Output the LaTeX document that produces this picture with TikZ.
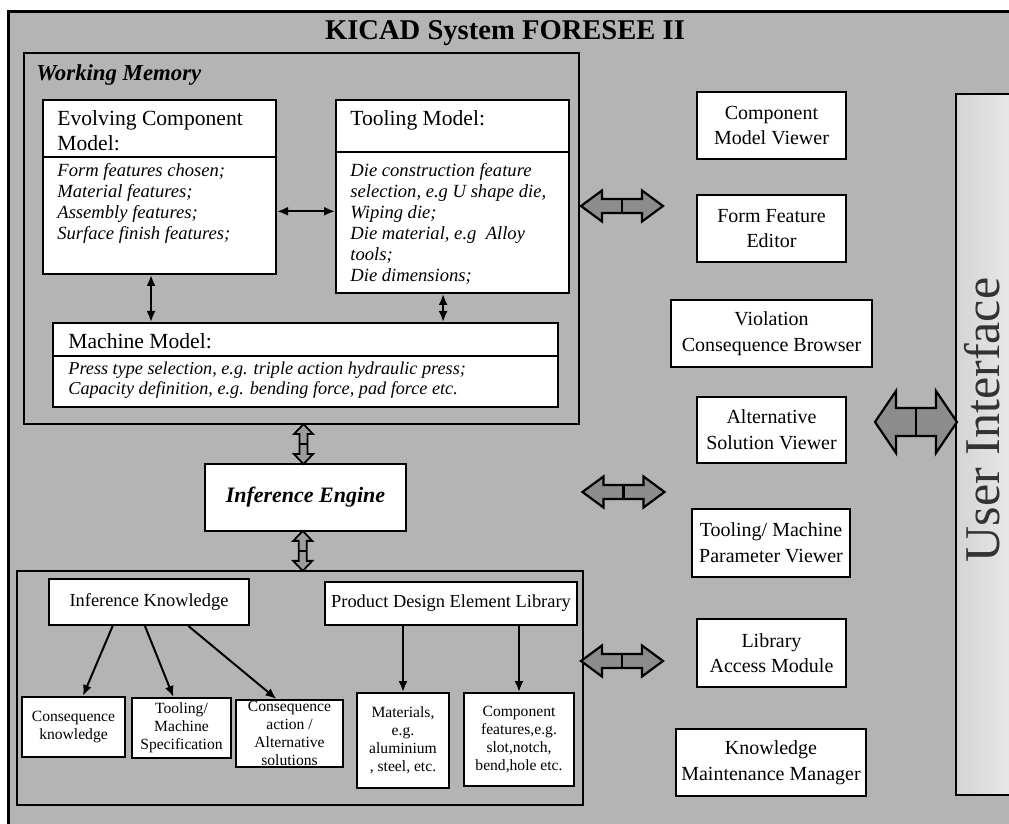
\documentclass[tikz,border=0pt]{standalone}
\usepackage{fontspec}
\setmainfont{Liberation Serif}
\usetikzlibrary{arrows.meta,positioning,calc,fit}

\definecolor{paneltone}{HTML}{B4B4B4}
\definecolor{blockarrow}{HTML}{8C8C8C}
\definecolor{uitone}{HTML}{D4D4D4}
\newcommand{\fsz}[2]{\fontsize{#1}{#2}\selectfont}

\tikzset{
  fatarrow/.pic={
    \draw[fill=blockarrow, line width=1.1pt, line join=miter]
      (-41,0) -- (-20,15.5) -- (-20,7) -- (20,7) -- (20,15.5) -- (41,0)
      -- (20,-15.5) -- (20,-7) -- (-20,-7) -- (-20,-15.5) -- cycle;
    \draw[line width=1.1pt] (0,-7) -- (0,7);
  },
  thinarrow/.pic={
    \draw[fill=blockarrow!85, line width=0.9pt]
      (0,-20) -- (9.5,-10) -- (4,-10) -- (4,10) -- (9.5,10) -- (0,20)
      -- (-9.5,10) -- (-4,10) -- (-4,-10) -- (-9.5,-10) -- cycle;
    \draw[line width=0.9pt] (-4,0) -- (4,0);
  }
}

\begin{document}
\begin{tikzpicture}[x=0.5pt, y=-0.5pt,
  box/.style={draw, line width=1pt, fill=white, inner sep=0pt},
  frame/.style={draw, line width=1.2pt, inner sep=0pt},
  head/.style={inner sep=0pt, anchor=north west, align=left, font=\fsz{10.8}{12.5}},
  body/.style={inner sep=0pt, anchor=north west, align=left, font=\fsz{9.3}{10.5}\itshape},
  tool/.style={box, align=center, font=\fsz{10}{12.8}, minimum width=74.5pt, minimum height=33.5pt},
  leaf/.style={box, align=center, font=\fsz{7.8}{9}},
  biarr/.style={{Latex[length=5.5pt,width=4.5pt]}-{Latex[length=5.5pt,width=4.5pt]}, line width=1pt},
  arr/.style={-{Latex[length=5.5pt,width=4.5pt]}, line width=1pt}]
\clip (0,0) rectangle (1009,824);
\fill[white] (0,0) rectangle (1009,824);
\fill[paneltone] (8,12) rectangle (1020,830);
\draw[line width=1.5pt] (1020,12) -- (8,12) -- (8,830);
\node[font=\fsz{14.3}{16}\bfseries] (title) at (505,33) {KICAD System FORESEE II};

% working memory
\node[frame, fit={(24,53) (579,424)}] (wm) {};
\node[anchor=west, inner sep=0pt, font=\fsz{11.4}{13}\bfseries\itshape] (wmlabel) at (36,75) {Working Memory};

\node[box, fit={(43,100) (276,274)}] (ecm) {};
\draw[line width=1pt] (43,157) -- (276,157);
\node[head] (ecmhead) at (57,110) {Evolving Component\\Model:};
\node[body] (ecmbody) at (57,163) {Form features chosen;\\Material features;\\Assembly features;\\Surface finish features;};

\node[box, fit={(336,100) (569,293)}] (tool) {};
\draw[line width=1pt] (336,152) -- (569,152);
\node[head] (toolhead) at (350,110) {Tooling Model:};
\node[body] (toolbody) at (350,163) {Die construction feature\\selection, e.g U shape die,\\Wiping die;\\Die material, e.g\ \ Alloy\\tools;\\Die dimensions;};

\node[box, fit={(53,323) (558,407)}] (mm) {};
\draw[line width=1pt] (53,356) -- (558,356);
\node[head] (mmhead) at (68,333) {Machine Model:};
\node[body, font=\fsz{9.1}{10}\itshape] (mmbody) at (68,361) {Press type selection, e.g. triple action hydraulic press;\\Capacity definition, e.g. bending force, pad force etc.};

\coordinate (ecmside) at ($(ecm.north east)!0.638!(ecm.south east)$);
\coordinate (ecmfoot) at ($(ecm.south west)!0.464!(ecm.south east)$);
\coordinate (toolfoot) at ($(tool.south west)!0.46!(tool.south east)$);
\draw[biarr] (ecmside) -- (ecmside -| tool.west);
\draw[biarr] (ecmfoot) -- (ecmfoot |- mm.north);
\draw[biarr] (toolfoot) -- (toolfoot |- mm.north);

% inference engine
\node[box, minimum width=100.5pt, minimum height=33.5pt, font=\fsz{11}{13}\bfseries\itshape] (ie) at (305.5,497.5) {Inference Engine};

% knowledge base
\node[frame, fit={(17,571) (583,805)}] (kb) {};
\node[box, minimum width=100pt, minimum height=23pt, font=\fsz{9.2}{11}] (ik) at (149,602) {Inference Knowledge};
\node[box, minimum width=126pt, minimum height=21.5pt, font=\fsz{9.2}{11}] (pdel) at (451,603.5) {Product Design Element Library};
\node[leaf, minimum width=51.5pt, minimum height=30pt] (ck) at (73.5,727) {Consequence\\knowledge};
\node[leaf, minimum width=49.5pt, minimum height=30pt] (tms) at (181.5,728) {Tooling/\\Machine\\Specification};
\node[leaf, minimum width=53.5pt, minimum height=33.5pt] (ca) at (289.5,733.5) {Consequence\\action /\\Alternative\\solutions};
\node[leaf, minimum width=46pt, minimum height=47.5pt] (mat) at (403,740.5) {Materials,\\e.g.\\aluminium\\, steel, etc.};
\node[leaf, minimum width=55pt, minimum height=46.5pt] (cf) at (519,739.5) {Component\\features,e.g.\\slot,notch,\\bend,hole etc.};

\draw[arr] ($(ik.south west)!0.32!(ik.south east)$) -- ($(ck.north west)!0.59!(ck.north east)$);
\draw[arr] ($(ik.south west)!0.48!(ik.south east)$) -- ($(tms.north west)!0.42!(tms.north east)$);
\draw[arr] ($(ik.south west)!0.695!(ik.south east)$) -- ($(ca.north west)!0.38!(ca.north east)$);
\draw[arr] (mat.north |- pdel.south) -- (mat.north);
\draw[arr] (cf.north |- pdel.south) -- (cf.north);

\path ($(wm.south)!0.5!(ie.north)$) pic {thinarrow};
\path ($(ie.south)!0.5!(kb.north)$) pic {thinarrow};

% tools column
\node[tool] (cmv) at (771.5,125.5) {Component\\Model Viewer};
\node[tool] (ffe) at (771.5,228.5) {Form Feature\\Editor};
\node[tool, minimum width=100.5pt] (vcb) at (771.5,333.5) {Violation\\Consequence Browser};
\node[tool, minimum height=33pt] (asv) at (771.5,430) {Alternative\\Solution Viewer};
\node[tool, minimum width=79pt, minimum height=34pt] (tmpv) at (771,543) {Tooling/ Machine\\Parameter Viewer};
\node[tool, minimum height=34pt] (lam) at (771.5,653) {Library\\Access Module};
\node[tool, minimum width=95pt] (kmm) at (771,762.5) {Knowledge\\Maintenance Manager};

\path (622,206) pic {fatarrow};
\path (623.5,492) pic {fatarrow};
\path (622,661) pic {fatarrow};

% user interface
\node[draw, line width=1pt, inner sep=0pt, left color=uitone, right color=uitone!40, fit={(956,94) (1030,795)}] (ui) {};
\node[rotate=90, font=\fsz{25}{28}, text=black!80] (uilabel) at (982,420) {User Interface};
\path (916,422) pic[yscale=2] {fatarrow};
\end{tikzpicture}
\end{document}
